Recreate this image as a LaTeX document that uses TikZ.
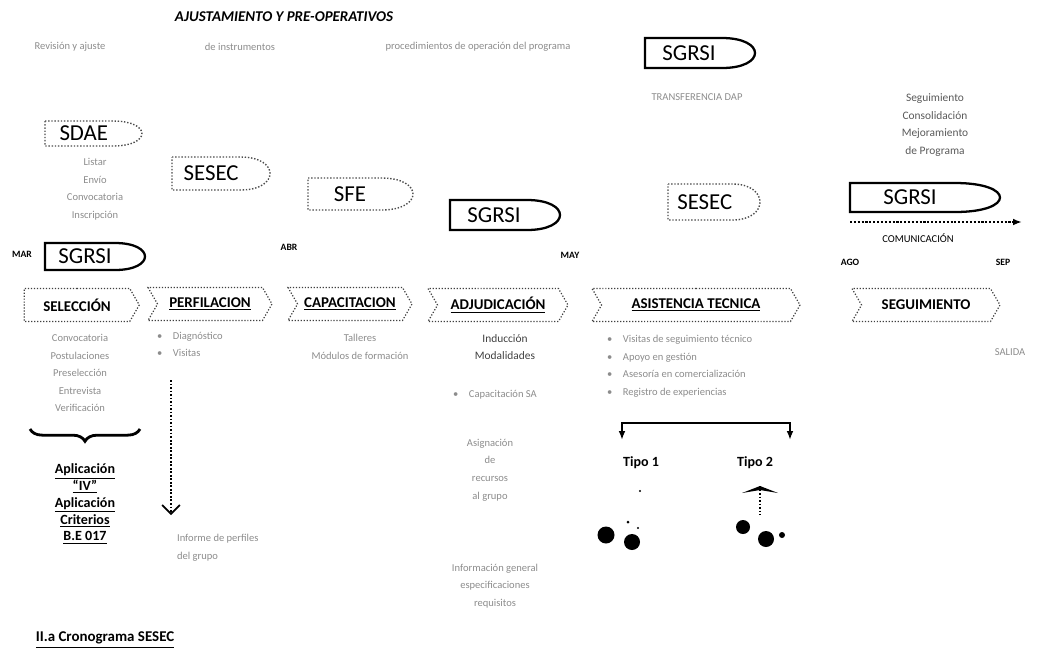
\documentclass[tikz,border=0pt]{standalone}
\usepackage{fontspec}
\setmainfont{Carlito}
\usetikzlibrary{shapes.symbols,arrows.meta,decorations.pathreplacing}

\tikzset{
  tagtxt/.style={inner sep=0pt, font=\fontsize{13}{13}\selectfont},
  solidtag/.style={draw=black, line width=1.3pt},
  dottag/.style={draw=black!70, densely dotted, line width=0.8pt},
  stage/.style={signal, signal to=east, draw=black!75, densely dotted,
    line width=0.7pt, minimum height=0.66cm, inner sep=2pt,
    signal pointer angle=120,
    font=\bfseries\fontsize{8.5}{9}\selectfont},
  faint/.style={text=black!45, font=\fontsize{6}{10}\selectfont,
    align=center, inner sep=1pt},
  month/.style={font=\bfseries\fontsize{5.5}{6}\selectfont, inner sep=1pt},
}

% tag with a rounded point: name, left, top, width, height, text, style
\newcommand\tagbox[7]{%
  \draw[#7] (#2,#3) -- ({#2+0.7*#4},#3)
    .. controls ({#2+0.9*#4},#3) and ({#2+#4},{#3+0.25*#5}) .. ({#2+#4},{#3+0.5*#5})
    .. controls ({#2+#4},{#3+0.75*#5}) and ({#2+0.9*#4},{#3+#5}) .. ({#2+0.7*#4},{#3+#5})
    -- (#2,{#3+#5}) -- cycle;
  \node[tagtxt] (#1) at ({#2+0.4*#4},{#3+0.5*#5}) {#6};}

\begin{document}
\begin{tikzpicture}[x=0.02cm, y=-0.02cm]
  \useasboundingbox (0,0) rectangle (1041,654);

  % ---- header ----
  \node[font=\bfseries\itshape\fontsize{8.5}{9}\selectfont] (title) at (284,17)
    {AJUSTAMIENTO Y PRE-OPERATIVOS};
  \node[faint] (hdrA) at (70,47) {Revisión y ajuste};
  \node[faint] (hdrB) at (240,47) {de instrumentos};
  \node[faint] (hdrC) at (478,47) {procedimientos de operación del programa};

  % ---- responsible units ----
  \tagbox{sgrsiA}{645}{38}{110}{30}{SGRSI}{solidtag}
  \node[faint] (transf) at (697,97) {TRANSFERENCIA DAP};
  \tagbox{sdae}{45}{121}{97}{25}{SDAE}{dottag}
  \node[faint] (sdaeTxt) at (95,189) {Listar\\Envío\\Convocatoria\\Inscripción};
  \tagbox{sesecA}{172}{157}{98}{33}{SESEC}{dottag}
  \tagbox{sfe}{308}{178}{105}{32}{SFE}{dottag}
  \tagbox{sgrsiB}{450}{200}{110}{30}{SGRSI}{solidtag}
  \tagbox{sesecB}{668}{184}{92}{36}{SESEC}{dottag}
  \tagbox{sgrsiC}{850}{183}{150}{29}{SGRSI}{solidtag}
  \tagbox{sgrsiD}{45}{243}{100}{27}{SGRSI}{solidtag}

  \node[text=black!65, font=\fontsize{6.5}{10}\selectfont, align=center] (segTxt)
    at (935,125) {Seguimiento\\Consolidación\\Mejoramiento\\de Programa};

  % comunicacion arrow
  \coordinate (comA) at (850,222);
  \coordinate (comB) at (1022,222);
  \draw[densely dotted, line width=1.2pt, -{Latex[length=5pt]}] (comA) -- (comB);
  \node[font=\fontsize{6}{7}\selectfont] (comTxt) at (918,238) {COMUNICACIÓN};

  % ---- months ----
  \node[month] (mMar) at (22,254) {MAR};
  \node[month] (mAbr) at (289,247) {ABR};
  \node[month] (mMay) at (570,255) {MAY};
  \node[month] (mAgo) at (850,262) {AGO};
  \node[month] (mSep) at (1003,262) {SEP};

  % ---- stages ----
  \node[stage, minimum width=2.3cm] (selec) at (77,305) {SELECCIÓN};
  \node[stage, signal from=west, minimum width=2.48cm] (perfil) at (210,304) {\underline{PERFILACION}};
  \node[stage, signal from=west, minimum width=2.48cm] (capac) at (350,304) {\underline{CAPACITACION}};
  \node[stage, signal from=west, minimum width=2.8cm] (adjud) at (498,305) {\underline{ADJUDICACIÓN}};
  \node[stage, signal from=west, minimum width=4.16cm] (asist) at (696,305) {\underline{ASISTENCIA TECNICA}};
  \node[stage, signal from=west, minimum width=2.96cm] (segui) at (926,305) {SEGUIMIENTO};

  % ---- seleccion ----
  \node[faint, font=\fontsize{6}{10}\selectfont] (selTxt) at (80,373)
    {Convocatoria\\Postulaciones\\Preselección\\Entrevista\\Verificación};
  \draw[line width=1.6pt, decorate, decoration={brace, mirror, amplitude=7pt}]
    (30,429) -- (140,429);
  \node[font=\bfseries\fontsize{8}{9.6}\selectfont, align=center] (aplic) at (85,504)
    {\underline{Aplicación}\\\underline{``IV''}\\\underline{Aplicación}\\\underline{Criterios}\\\underline{B.E 017}};

  % ---- perfilacion ----
  \node[faint, align=left, anchor=north west] (perfTxt) at (155,330) {•\quad Diagnóstico\\•\quad Visitas};
  \coordinate (perfTop) at (171,380);
  \coordinate (perfEnd) at (171,515);
  \draw[densely dotted, line width=1pt, -{Straight Barb[length=5pt]}] (perfTop) -- (perfEnd);
  \node[faint, align=left, anchor=north west] (perfOut) at (175,532) {Informe de perfiles\\del grupo};

  % ---- capacitacion ----
  \node[faint] (capTxt) at (360,347) {Talleres\\Módulos de formación};

  % ---- adjudicacion ----
  \node[text=black!75, font=\fontsize{6.5}{10}\selectfont, align=center] (adjTxt) at (505,347)
    {Inducción\\Modalidades};
  \node[faint] (adjCap) at (495,395) {•\quad Capacitación SA};
  \node[faint] (adjMid) at (490,470) {Asignación\\de\\recursos\\al grupo};
  \node[faint] (adjLow) at (495,586) {Información general\\especificaciones\\requisitos};

  % ---- asistencia tecnica ----
  \node[faint, align=left, anchor=north west] (asTxt) at (605,333)
    {•\quad Visitas de seguimiento técnico\\•\quad Apoyo en gestión\\•\quad Asesoría en comercialización\\•\quad Registro de experiencias};
  \coordinate (brL) at (622,440);
  \coordinate (brM) at (706,423);
  \coordinate (brR) at (790,440);
  \draw[line width=1.3pt, {Latex[length=5pt]}-{Latex[length=5pt]}] (brL) |- (brM) -| (brR);
  \node[font=\bfseries\fontsize{8}{9}\selectfont] (tipoA) at (641,463) {Tipo 1};
  \node[font=\bfseries\fontsize{8}{9}\selectfont] (tipoB) at (755,463) {Tipo 2};

  % tipo 1 figure
  \fill (606,535) circle (8.5);
  \fill (632,542) circle (8);
  \fill (640,491) circle (1.2);
  \fill (628,522) circle (1.5);
  \fill (638,528) circle (1.2);
  % tipo 2 figure
  \fill (742,493) -- (760,486) -- (778,493) -- (760,490) -- cycle;
  \draw[densely dotted, line width=1pt] (760,486) -- (760,515);
  \fill (743,527) circle (7);
  \fill (766,539) circle (8);
  \fill (782,535) circle (3);

  % ---- seguimiento ----
  \node[faint] (segOut) at (1010,352) {SALIDA};

  % ---- footer ----
  \node[font=\bfseries\fontsize{8.5}{9}\selectfont] (foot) at (105,640) {\underline{II.a Cronograma SESEC}};
\end{tikzpicture}
\end{document}
